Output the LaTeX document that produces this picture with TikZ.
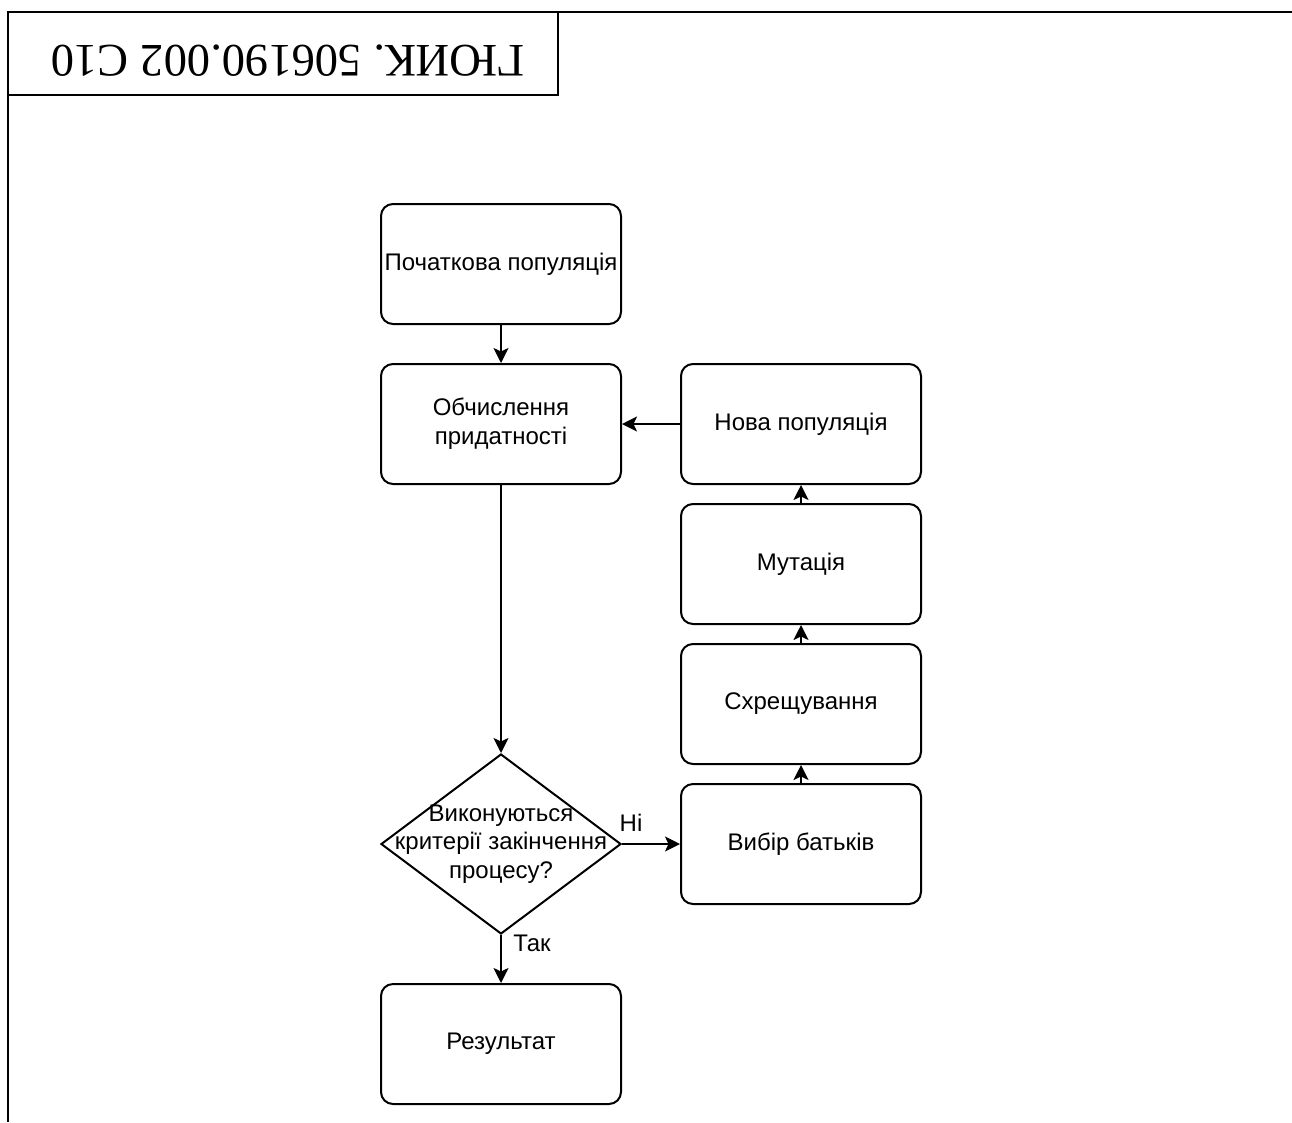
\documentclass[tikz,border=0pt]{standalone}
\usepackage{fontspec}
\setmainfont{Liberation Sans}
\newfontfamily\codefont{Liberation Serif}
\usetikzlibrary{arrows.meta,shapes.geometric}
\begin{document}
\begin{tikzpicture}[x=1pt,y=-1pt,
  stepbox/.style={draw, line width=2pt, rounded corners=12pt,
    minimum width=240pt, minimum height=120pt, inner sep=0pt,
    align=center, font=\fontsize{24}{29}\selectfont},
  decision/.style={draw, diamond, line width=2pt,
    minimum width=240pt, minimum height=180pt, inner sep=0pt},
  lbl/.style={align=center, inner sep=0pt, font=\fontsize{24}{28.5}\selectfont},
  arr/.style={line width=2pt, -{Stealth[length=15pt,width=15pt,inset=3.5pt]}},
  frame/.style={line width=2.6pt}
]
\useasboundingbox (0,0) rectangle (1292,1122);

% sheet frame and stamp
\coordinate (fTL) at (8,12);
\coordinate (fTR) at (1292,12);
\coordinate (fBL) at (8,1122);
\draw[frame] (fBL) -- (fTL) -- (fTR);
\coordinate (sBL) at (8,95);
\coordinate (sBR) at (558,95);
\coordinate (sTR) at (558,12);
\draw[frame] (sBL) -- (sBR) -- (sTR);
\node[rotate=180, inner sep=0pt, font=\codefont\fontsize{46.6}{50}\selectfont]
  (code) at (288,61) {ГЮИК. 506190.002 С10};

% flowchart
\node[stepbox] (init) at (501,264) {Початкова популяція};
\node[stepbox] (eval) at (501,424) {Обчислення\\придатності};
\node[decision] (check) at (501,844) {};
\node[lbl] (checktxt) at (501,844) {Виконуються\\критерії закінчення\\процесу?};
\node[stepbox] (res) at (501,1044) {Результат};
\node[stepbox] (newpop) at (801,424) {Нова популяція};
\node[stepbox] (mut) at (801,564) {Мутація};
\node[stepbox] (cross) at (801,704) {Схрещування};
\node[stepbox] (parents) at (801,844) {Вибір батьків};

\draw[arr] (init) -- (eval);
\draw[arr] (eval) -- (check.north);
\draw[arr] (check.east) -- (parents);
\draw[arr] (check.south) -- (res);
\draw[arr] (parents) -- (cross);
\draw[arr] (cross) -- (mut);
\draw[arr] (mut) -- (newpop);
\draw[arr] (newpop) -- (eval);

\node[lbl] (no) at (631,823) {Ні};
\node[lbl] (yes) at (532,943) {Так};
\end{tikzpicture}
\end{document}
